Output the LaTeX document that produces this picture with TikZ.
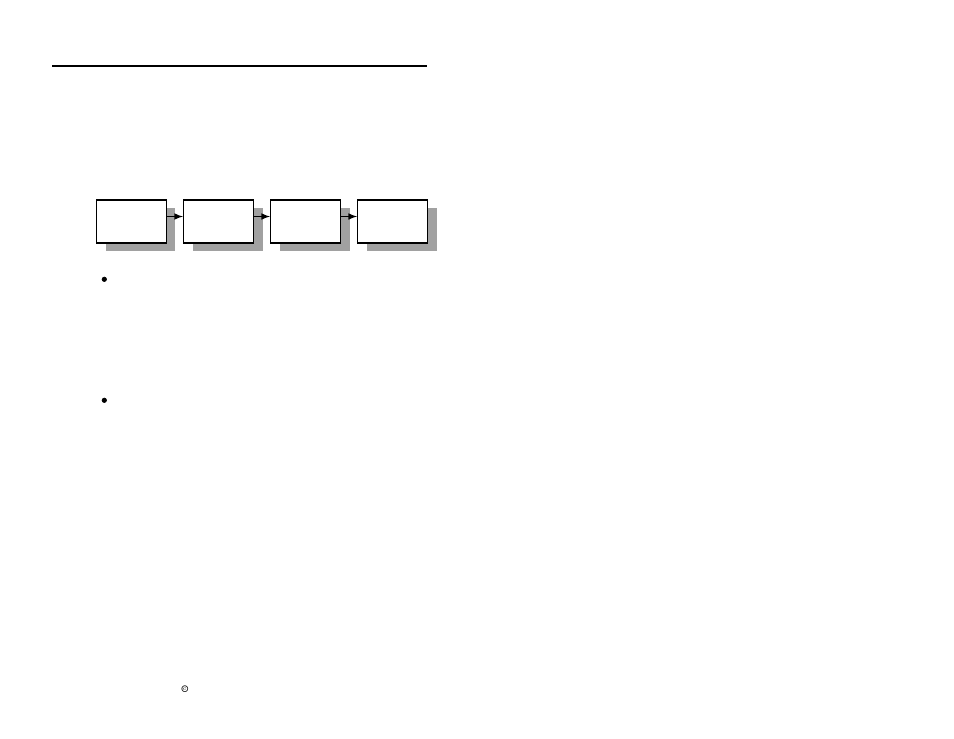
\documentclass[tikz,border=0pt]{standalone}
\usetikzlibrary{positioning,shadows}
\begin{document}
\begin{tikzpicture}[x=0.02cm,y=-0.02cm,
        stage/.style={draw, line width=0.6pt, fill=white, minimum width=1.4cm, minimum height=0.86cm,
            drop shadow={shadow xshift=0.18cm, shadow yshift=-0.16cm, fill=black!37, opacity=1}},
        link/.style={-latex, line width=0.7pt}]
        \useasboundingbox (0,0) rectangle (954,738);

        % Rule at the top of the page
        \coordinate (ruleL) at (52,66);
        \coordinate (ruleR) at (427,66);
        \draw [line width=0.6pt] (ruleL) -- (ruleR);

        % Chain of boxes
        \node [stage] (b1) at (131.5,221.5) {};
        \node [stage, right=0.32cm of b1] (b2) {};
        \node [stage, right=0.32cm of b2] (b3) {};
        \node [stage, right=0.32cm of b3] (b4) {};

        % Arrows between the boxes
        \draw [link] ([yshift=0.1cm]b1.east) -- ([yshift=0.1cm]b2.west);
        \draw [link] ([yshift=0.1cm]b2.east) -- ([yshift=0.1cm]b3.west);
        \draw [link] ([yshift=0.1cm]b3.east) -- ([yshift=0.1cm]b4.west);

        % Bullets
        \filldraw [black] (104.3,279.3) circle (2.2);
        \filldraw [black] (104.3,400.3) circle (2.2);

        % Copyright mark
        \node [inner sep=0pt, font=\fontsize{5.5}{6}\selectfont\bfseries] (copy) at (185,689.3) {\textcopyright};
    \end{tikzpicture}
\end{document}
